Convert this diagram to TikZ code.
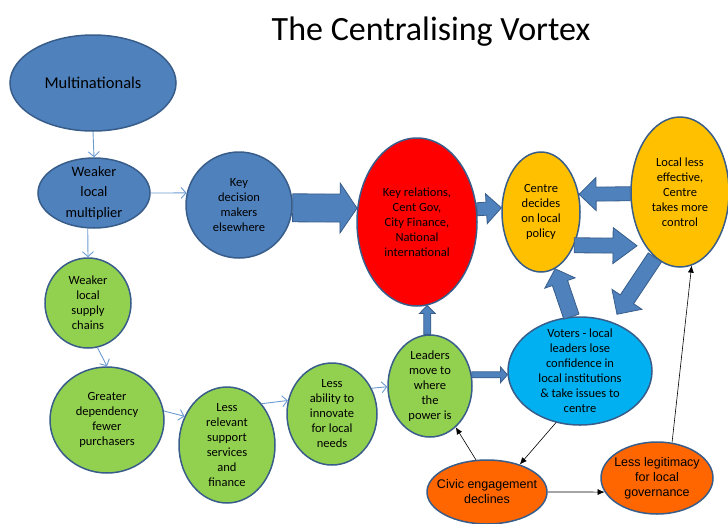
\documentclass[tikz,border=0pt]{standalone}
\usepackage{fontspec}
\setmainfont{Carlito}
\newfontfamily\arialfont{Liberation Sans}
\usepackage{xcolor}
\definecolor{NodeBlue}{HTML}{4F81BD}
\definecolor{EdgeBlue}{HTML}{385D8A}
\definecolor{LinkBlue}{HTML}{6C9BD2}
\definecolor{LeafGreen}{HTML}{92D050}
\definecolor{HotRed}{HTML}{FF0000}
\definecolor{PolicyGold}{HTML}{FFC000}
\definecolor{VoterCyan}{HTML}{00B0F0}
\definecolor{CivicOrange}{HTML}{FF6600}
\usepackage{tikz}
\usetikzlibrary{arrows.meta,shapes.geometric,calc}
\tikzset{
  oval/.style={
    ellipse,
    draw=EdgeBlue,
    line width=1.5pt,
    inner sep=-12pt,
    align=center,
    font=\fontsize{12.5}{15}\selectfont
  },
  blueoval/.style={oval, fill=NodeBlue},
  greenoval/.style={oval, fill=LeafGreen},
  redoval/.style={oval, fill=HotRed},
  goldoval/.style={oval, fill=PolicyGold},
  cyanoval/.style={oval, fill=VoterCyan},
  orangeoval/.style={oval, fill=CivicOrange, font=\arialfont\fontsize{12.5}{15}\selectfont},
  thinlink/.style={
    draw=LinkBlue,
    line width=0.9pt,
    -{Straight Barb[length=5pt,width=11pt]}
  },
  blacklink/.style={
    draw=black,
    line width=0.6pt,
    -{Latex[length=7pt,width=6pt]}
  },
  fatbody/.style={
    fill=NodeBlue,
    draw=EdgeBlue,
    line width=0.8pt
  }
}
% from, to, shaft half width, head half width, head length, gap at tip
\newcommand{\blockarrow}[6]{%
  \path[fatbody] let \p1=(#1), \p2=(#2),
      \n1={atan2(\y2-\y1,\x2-\x1)}, \n2={veclen(\x2-\x1,\y2-\y1)-#6} in
    ($(\p1)+(\n1+90:#3)$) -- ++(\n1:\n2-#5) -- ++(\n1+90:#4-#3)
    -- ($(\p1)+(\n1:\n2)$)
    -- ($(\p1)+(\n1:\n2-#5)+(\n1-90:#4)$) -- ++(\n1+90:#4-#3)
    -- ($(\p1)+(\n1-90:#3)$) -- cycle;}

\begin{document}
\begin{tikzpicture}[x=1pt,y=1pt]
  \useasboundingbox (0,0) rectangle (728,-523);
  \node[anchor=base, font=\fontsize{34}{40}\selectfont] (title) at (431,-40) {The Centralising Vortex};

  \node[blueoval, minimum width=166, minimum height=96, font=\fontsize{16.5}{20}\selectfont] (multi) at (93,-83) {Multinationals};
  \node[blueoval, minimum width=112, minimum height=70, font=\fontsize{14.4}{20.5}\selectfont] (weakmult) at (94,-193) {Weaker\\local\\multiplier};
  \node[blueoval, minimum width=106, minimum height=106] (keydec) at (239,-205) {Key\\decision\\makers\\elsewhere};
  \node[redoval, minimum width=120, minimum height=168] (keyrel) at (417,-222) {Key relations,\\Cent Gov,\\City Finance,\\National\\international};
  \node[goldoval, minimum width=78, minimum height=120] (centre) at (541,-212) {Centre\\decides\\on local\\policy};
  \node[goldoval, minimum width=98, minimum height=150] (local) at (680,-192) {Local less\\effective,\\Centre\\takes more\\control};

  \node[greenoval, minimum width=86, minimum height=90] (supply) at (88,-303) {Weaker\\local\\supply\\chains};
  \node[greenoval, minimum width=114, minimum height=106] (greater) at (107,-420) {Greater\\dependency\\fewer\\purchasers};
  \node[greenoval, minimum width=96, minimum height=116] (lessrel) at (227,-445) {Less\\relevant\\support\\services\\and\\finance};
  \node[greenoval, minimum width=90, minimum height=102] (lessab) at (332,-414) {Less\\ability to\\innovate\\for local\\needs};
  \node[greenoval, minimum width=84, minimum height=102] (leaders) at (430,-386) {Leaders\\move to\\where\\the\\power is};
  \node[cyanoval, minimum width=144, minimum height=108] (voters) at (580,-371) {Voters - local\\leaders lose\\confidence in\\local institutions\\\& take issues to\\centre};
  \node[orangeoval, minimum width=120, minimum height=64] (civic) at (487,-492) {Civic engagement\\declines};
  \node[orangeoval, minimum width=112, minimum height=72] (legit) at (657,-478) {Less legitimacy\\for local\\governance};

  \foreach \from/\to in {multi.south/weakmult.north,weakmult.east/keydec.167,weakmult.260/supply.north,supply.282/greater.north,greater.9/lessrel.146,lessrel.50/lessab.163,lessab.33/leaders.181}{\draw[thinlink] (\from) -- (\to);}
  \foreach \from/\to in {voters.245/civic.40,civic.109/leaders.302,civic.east/legit.195,legit.67/local.279}{\draw[blacklink] (\from) -- (\to);}
  \foreach \from/\to/\w/\W/\h/\gap in {keydec.-3/keyrel.167/14/25/17/0,keyrel.12/centre.174/6.5/15/15/0,local.182/centre.25/7/16.5/17/0,centre.-45/local.237/7.5/18/24/8,local.249/voters.57/8/18/18/9,voters.99/centre.284/8/16/15/0,leaders.93/keyrel.277/3.5/8/8/0,leaders.15/voters.183/3/8/7/0}{\blockarrow{\from}{\to}{\w}{\W}{\h}{\gap}}
\end{tikzpicture}
\end{document}
